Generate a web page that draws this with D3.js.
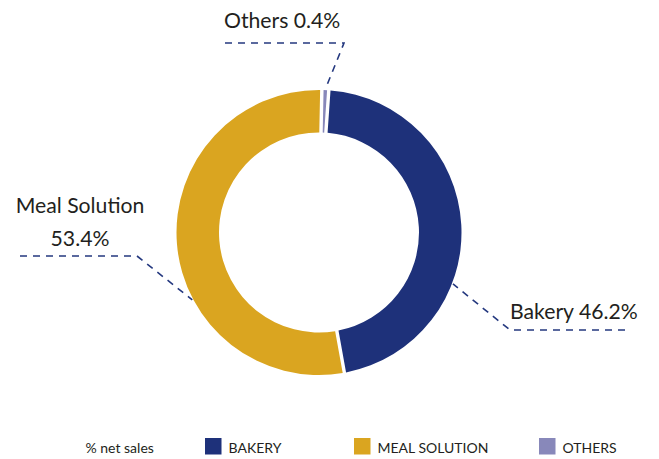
<!DOCTYPE html>
<html>
<head>
<meta charset="utf-8">
<script src="https://cdn.jsdelivr.net/npm/d3@7"></script>
<style>
  html, body { margin: 0; padding: 0; background: #fff; }
  #chart { width: 659px; height: 459px; }
</style>
</head>
<body>
<div id="chart"></div>
<script>
// data
const categories = ["Others", "Bakery", "Meal Solution"];
const shares = [0.4, 46.2, 53.4];
const legendLabels = ["BAKERY", "MEAL SOLUTION", "OTHERS"];
const legendOrder = ["Bakery", "Meal Solution", "Others"];
const legendTitle = "% net sales";

const colors = {
  "Bakery": "#1e317a",
  "Meal Solution": "#daa520",
  "Others": "#8888ba"
};

const width = 659;
const height = 459;
const cx = 319;
const cy = 232.5;
const outerR = 142.5;
const innerR = 100;
const startAngle = 0.02;

const textColor = "#231f20";
const lineColor = "#24387f";
const fontFamily = "Lato, 'Noto Sans', sans-serif";

const labelSize = 21.2;
const legendSize = 14;

const svg = d3
  .create("svg")
  .attr("viewBox", [0, 0, width, height])
  .attr("width", width)
  .attr("height", height)
  .style("font-family", fontFamily);

const data = categories.map((c, i) => ({ category: c, value: shares[i] }));

const pie = d3
  .pie()
  .sort(null)
  .value((d) => d.value)
  .padAngle(0.024)
  .startAngle(startAngle)
  .endAngle(startAngle + 2 * Math.PI);

const arcs = pie(data);

const arc = d3
  .arc()
  .innerRadius(innerR)
  .outerRadius(outerR)
  .padRadius(outerR);

const ring = svg.append("g").attr("transform", `translate(${cx},${cy})`);

ring
  .selectAll("path")
  .data(arcs)
  .join("path")
  .attr("fill", (d) => colors[d.data.category])
  .attr("d", arc);

// leader lines + labels (layout only)
const byName = Object.fromEntries(arcs.map((a) => [a.data.category, a]));
const fmt = (v) => d3.format(".1f")(v) + "%";

const pointAt = (angle, r) => [
  cx + r * Math.sin(angle),
  cy - r * Math.cos(angle)
];

const othersArc = byName["Others"];
const othersMid = (othersArc.startAngle + othersArc.endAngle) / 2;

const leaders = [
  {
    key: "Others",
    anchor: pointAt(othersMid, outerR + 1),
    elbow: [344, 43],
    end: 225
  },
  {
    key: "Bakery",
    anchor: pointAt((111 * Math.PI) / 180, outerR + 1),
    elbow: [510, 330],
    end: 625
  },
  {
    key: "Meal Solution",
    anchor: pointAt((242 * Math.PI) / 180, outerR + 1),
    elbow: [137, 256],
    end: 20
  }
];

svg
  .append("g")
  .selectAll("path")
  .data(leaders)
  .join("path")
  .attr("fill", "none")
  .attr("stroke", lineColor)
  .attr("stroke-width", 1.6)
  .attr("stroke-dasharray", "7,6")
  .attr("d", (d) =>
    d3.line()([[d.end, d.elbow[1]], d.elbow, d.anchor])
  );

const valueOf = (k) => byName[k].data.value;

svg
  .append("text")
  .attr("x", 224)
  .attr("y", 28)
  .attr("font-size", labelSize)
  .attr("fill", textColor)
  .text(`Others ${fmt(valueOf("Others"))}`);

svg
  .append("text")
  .attr("x", 510)
  .attr("y", 319)
  .attr("font-size", labelSize)
  .attr("fill", textColor)
  .text(`Bakery ${fmt(valueOf("Bakery"))}`);

const mealText = svg
  .append("text")
  .attr("x", 80)
  .attr("y", 213)
  .attr("text-anchor", "middle")
  .attr("font-size", labelSize)
  .attr("fill", textColor);

mealText.append("tspan").attr("x", 80).text("Meal Solution");
mealText
  .append("tspan")
  .attr("x", 80)
  .attr("dy", 32.5)
  .text(fmt(valueOf("Meal Solution")));

// legend
const legendX = d3
  .scaleOrdinal()
  .domain(legendOrder)
  .range([205, 354, 539]);

const legendY = 438;
const swatch = 16.5;

svg
  .append("text")
  .attr("x", 85.5)
  .attr("y", 453)
  .attr("font-size", legendSize)
  .attr("fill", textColor)
  .text(legendTitle);

const legend = svg
  .append("g")
  .selectAll("g")
  .data(legendOrder)
  .join("g")
  .attr("transform", (d) => `translate(${legendX(d)},${legendY})`);

legend
  .append("rect")
  .attr("width", swatch)
  .attr("height", swatch)
  .attr("fill", (d) => colors[d]);

legend
  .append("text")
  .attr("x", 23.5)
  .attr("y", 15)
  .attr("font-size", legendSize)
  .attr("fill", textColor)
  .text((d, i) => legendLabels[i]);

document.querySelector("#chart").appendChild(svg.node());
</script>
</body>
</html>
